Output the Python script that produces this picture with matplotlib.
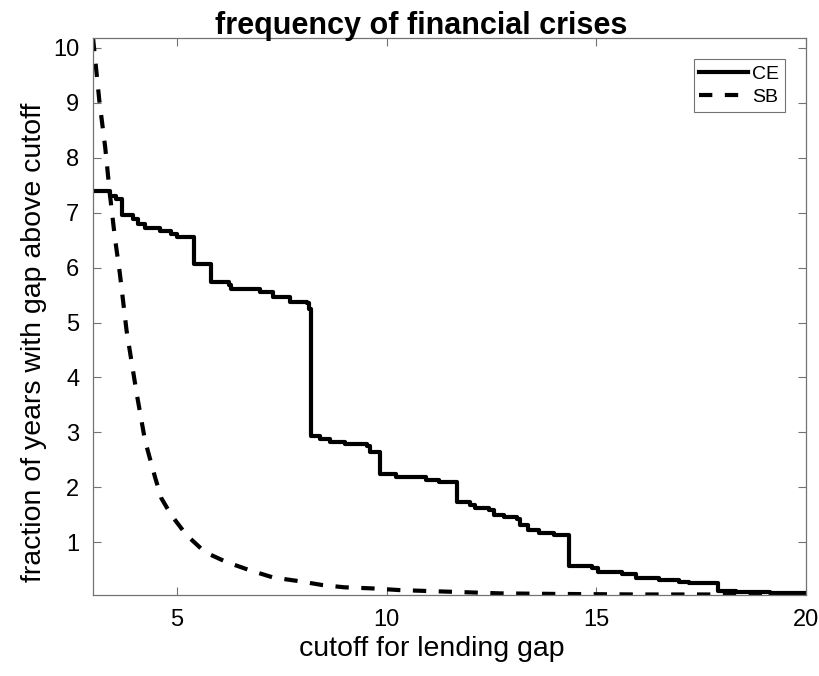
import numpy as np
import matplotlib.pyplot as plt

plt.rcParams['font.family'] = ['Liberation Sans', 'DejaVu Sans']

# CE: step function, cutoff where a new level starts and the level after it
ceCutoff = [3.00, 3.40, 3.55, 3.68, 3.95, 4.07, 4.24, 4.60, 4.87, 4.99,
            5.40, 5.82, 6.25, 6.30, 6.98, 7.29, 7.69, 8.09, 8.15, 8.19,
            8.40, 8.64, 9.00, 9.52, 9.60, 9.85, 10.23, 10.94, 11.25, 11.67,
            11.98, 12.10, 12.45, 12.57, 12.80, 13.12, 13.18, 13.36, 13.64, 14.00,
            14.34, 14.90, 15.05, 15.60, 15.95, 16.50, 16.98, 17.21, 17.89, 18.33,
            19.15, 20.00]
ceFreq = [7.40, 7.31, 7.25, 6.95, 6.89, 6.80, 6.73, 6.67, 6.61, 6.55,
          6.07, 5.73, 5.68, 5.61, 5.55, 5.46, 5.38, 5.35, 5.24, 2.93,
          2.88, 2.82, 2.79, 2.76, 2.64, 2.24, 2.19, 2.13, 2.10, 1.73,
          1.68, 1.63, 1.58, 1.49, 1.46, 1.43, 1.31, 1.22, 1.17, 1.14,
          0.57, 0.53, 0.46, 0.43, 0.35, 0.31, 0.28, 0.25, 0.12, 0.10,
          0.07, 0.06]

# SB: smooth decay
sbCutoff = [3.00, 3.15, 3.29, 3.40, 3.52, 3.64, 3.80, 4.04, 4.24, 4.48,
            4.63, 4.87, 5.23, 5.67, 6.18, 6.74, 7.29, 7.93, 8.48, 9.00,
            9.67, 10.30, 11.50, 12.70, 14.00, 16.00, 20.00]
sbFreq = [10.18, 9.04, 8.19, 7.35, 6.55, 5.89, 4.85, 3.71, 2.85, 2.18,
          1.80, 1.49, 1.13, 0.82, 0.64, 0.49, 0.36, 0.29, 0.22, 0.18,
          0.16, 0.13, 0.10, 0.07, 0.06, 0.05, 0.05]

fig = plt.figure(figsize=(8.19, 6.76), dpi=100)
ax = fig.add_axes([0.1136, 0.1198, 0.8706, 0.8240])

ax.plot(ceCutoff, ceFreq, color='k', linewidth=3, drawstyle='steps-post', label='CE')
ax.plot(sbCutoff, sbFreq, color='k', linewidth=3, linestyle=(0, (3.2, 3.0)), label='SB')

ax.set_xlim(3, 20)
ax.set_ylim(0.04, 10.18)
ax.set_xticks([5, 10, 15, 20])
ax.set_yticks(range(1, 11))

grey = '0.45'
for s in ax.spines.values():
    s.set_color(grey)
    s.set_linewidth(0.9)
ax.tick_params(direction='in', length=6, width=0.8, color=grey,
               top=True, right=True, labelsize=17, pad=10)

ax.set_xlabel('cutoff for lending gap', fontsize=20.5, labelpad=4, x=0.475)
ax.set_ylabel('fraction of years with gap above cutoff', fontsize=20.5, labelpad=4, y=0.454)
ax.set_title('frequency of financial crises', fontsize=22, fontweight='bold', pad=3, x=0.46)

leg = ax.legend(loc='upper right', fontsize=14, fancybox=False, framealpha=1,
                edgecolor=grey, handlelength=2.5, borderaxespad=1.1,
                handletextpad=0.2, labelspacing=0.3, borderpad=0.3)
leg.get_frame().set_linewidth(0.8)

fig.savefig('out.png', dpi=100)
